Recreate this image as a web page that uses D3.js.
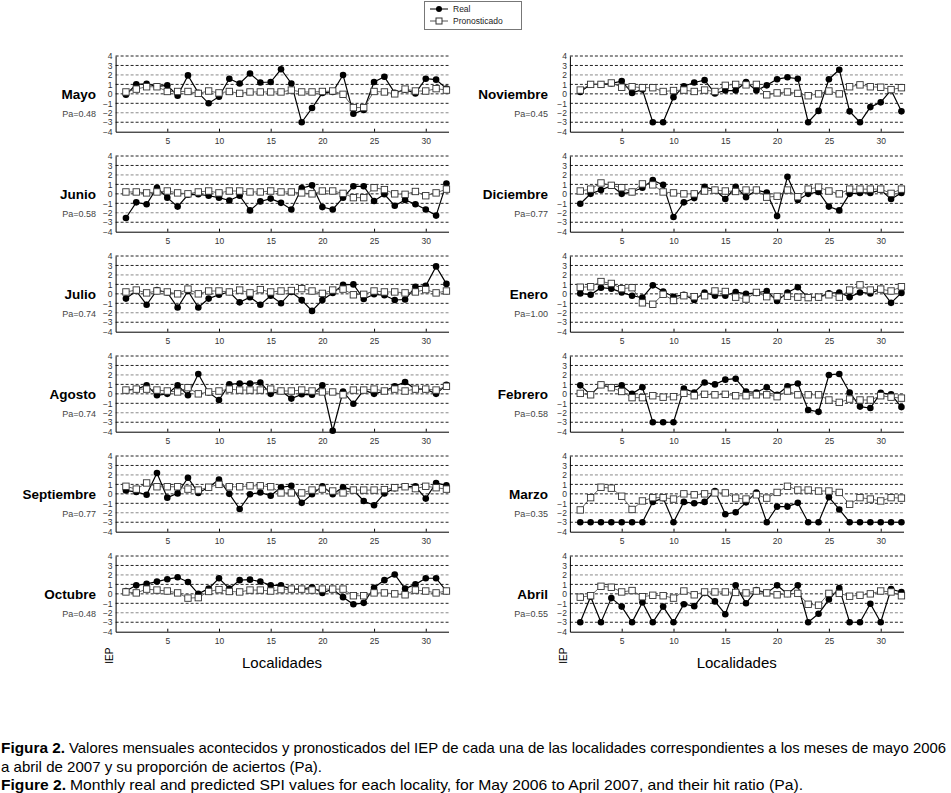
<!DOCTYPE html>
<html><head><meta charset="utf-8">
<script src="https://cdn.jsdelivr.net/npm/d3@7"></script>
<style>body{margin:0;background:#fff}svg{display:block}</style>
</head><body>
<svg id="c" width="951" height="793"></svg>
<script>
// ---- data ----
const localidades = d3.range(1, 33);
const xTicks = [5, 10, 15, 20, 25, 30];
const yTicks = [4, 3, 2, 1, 0, -1, -2, -3, -4];
const gridValues = [4, 3, 2, 1, 0, -1, -2, -3];

const monthsLeft = ["Mayo", "Junio", "Julio", "Agosto", "Septiembre", "Octubre"];
const monthsRight = ["Noviembre", "Diciembre", "Enero", "Febrero", "Marzo", "Abril"];
const paLeft = ["0.48", "0.58", "0.74", "0.74", "0.77", "0.48"];
const paRight = ["0.45", "0.77", "1.00", "0.58", "0.35", "0.55"];

const realMayo = [-0.1,1.0,1.05,0.8,0.9,-0.2,1.95,0.1,-1.0,-0.3,1.6,1.1,2.15,1.2,1.25,2.6,1.1,-3.0,-1.5,0.1,0.2,2.0,-2.1,-1.7,1.25,1.8,0.1,0.45,0.05,1.6,1.5,0.55];
const pronMayo = [0.2,0.5,0.75,0.75,0.25,0.25,0.25,0.05,0.3,0.1,0.25,0.05,0.2,0.2,0.2,0.2,0.4,0.2,0.2,0.25,0.3,-0.05,-1.45,-1.45,0.25,0.2,0.0,0.5,0.3,0.3,0.55,0.4];
const realJunio = [-2.55,-0.9,-1.1,0.65,-0.4,-1.35,-0.1,-0.05,-0.2,-0.4,-0.7,-0.2,-1.75,-0.8,-0.5,-0.95,-1.65,0.6,0.9,-1.4,-1.65,-0.4,0.8,0.8,-0.75,-0.05,-1.25,-0.65,-1.1,-1.65,-2.3,1.1];
const pronJunio = [0.2,0.2,0.1,0.2,0.3,0.1,0.0,0.2,0.3,0.1,0.3,0.3,0.2,0.2,0.3,0.2,0.2,0.1,0.0,0.3,0.3,0.05,-0.4,-0.4,0.65,0.45,0.0,-0.05,0.25,-0.2,0.1,0.5];
const realJulio = [-0.5,0.3,-1.15,0.4,0.15,-1.45,0.3,-1.45,-0.5,-0.1,0.2,-0.9,-0.35,-1.15,-0.2,-1.0,0.2,-0.65,-1.8,-0.65,0.1,0.95,1.0,-0.55,-0.05,-0.15,-0.65,-0.6,0.75,0.85,2.9,1.05];
const pronJulio = [0.2,0.4,0.1,0.3,0.2,0.0,0.5,0.0,0.3,0.3,0.2,0.4,0.1,0.45,0.2,0.3,0.35,0.55,0.3,0.05,0.4,0.5,-0.1,-0.05,0.3,0.2,0.2,0.1,0.2,0.45,0.1,0.3];
const realAgosto = [0.4,0.5,0.9,-0.15,0.0,0.9,-0.15,2.1,0.15,-0.65,1.0,1.1,1.1,1.2,0.0,0.3,-0.5,-0.05,-0.1,0.9,-3.9,0.25,-1.05,0.4,0.0,0.3,0.8,1.25,0.5,0.5,0.0,0.95];
const pronAgosto = [0.4,0.5,0.5,0.4,0.3,0.2,0.65,0.0,0.2,0.3,0.5,0.4,0.4,0.4,0.5,0.3,0.3,0.4,0.3,0.2,0.2,-0.1,0.4,0.4,0.5,0.3,0.5,0.3,0.5,0.5,0.4,0.8];
const realSeptiembre = [0.35,0.2,-0.1,2.2,-0.4,0.05,1.7,0.1,0.7,1.5,0.0,-1.6,-0.05,0.15,-0.2,0.7,0.85,-0.95,-0.05,0.8,-0.05,0.7,0.4,-0.75,-1.2,0.05,0.6,0.75,0.8,-0.5,1.15,0.9];
const pronSeptiembre = [0.8,0.5,1.15,0.75,0.75,0.75,0.5,0.4,0.7,1.0,0.75,0.75,0.85,0.85,0.75,0.1,0.1,0.1,0.4,0.5,0.3,0.1,0.4,0.4,0.4,0.45,0.65,0.75,0.55,0.8,0.65,0.5];
const realOctubre = [0.3,0.9,1.05,1.3,1.55,1.75,1.25,0.0,0.55,1.65,0.55,1.45,1.5,1.3,0.9,0.9,0.5,0.5,0.7,0.1,0.5,-0.35,-1.1,-0.95,0.65,1.45,2.05,0.55,1.0,1.65,1.65,0.3];
const pronOctubre = [0.2,0.1,0.5,0.4,0.3,0.1,-0.45,-0.4,0.25,0.45,0.25,0.2,0.4,0.4,0.3,0.45,0.5,0.5,0.4,0.5,0.5,0.5,-0.2,-0.2,0.1,0.1,0.0,-0.1,0.4,0.3,0.1,0.3];
const realNoviembre = [0.2,1.0,1.0,1.1,1.35,0.1,0.45,-3.0,-3.0,-0.35,0.8,1.2,1.45,0.05,0.35,0.35,1.25,0.35,0.9,1.55,1.75,1.6,-3.0,-1.8,1.55,2.55,-1.85,-3.0,-1.4,-0.9,0.4,-1.85];
const pronNoviembre = [0.4,1.0,1.0,1.15,0.7,0.75,0.65,0.65,0.25,0.35,0.4,0.25,0.4,0.25,0.9,1.0,0.95,1.0,-0.1,0.1,0.2,0.05,-0.2,0.0,0.3,0.0,0.75,0.95,0.75,0.7,0.45,0.65];
const realDiciembre = [-1.05,0.0,0.4,0.85,0.0,0.2,0.65,1.45,0.95,-2.45,-0.9,-0.45,0.75,0.4,-0.55,0.75,-0.35,0.4,0.15,-2.35,1.8,-0.65,0.0,0.2,-1.35,-1.75,0.0,0.1,0.1,0.4,-0.55,0.1];
const pronDiciembre = [0.3,0.5,1.15,0.9,0.65,0.2,1.05,0.95,0.2,0.1,0.0,0.0,0.3,0.4,0.3,0.25,0.4,0.4,-0.35,-0.25,0.4,-0.3,0.5,0.7,0.3,0.0,0.5,0.5,0.5,0.5,0.05,0.5];
const realEnero = [0.05,-0.1,0.65,0.55,0.15,-0.2,-0.4,0.9,0.25,-0.3,-0.1,-0.65,0.15,-0.2,-0.2,0.2,0.0,0.1,0.3,-0.75,0.15,0.7,-0.4,-0.35,0.05,0.15,-0.35,0.15,0.05,0.5,-0.95,0.1];
const pronEnero = [0.7,0.75,1.3,1.1,0.55,0.65,-0.95,-1.1,-0.05,-0.7,-0.2,-0.3,-0.2,0.3,0.25,-0.35,-0.55,0.15,-0.3,-0.3,-0.25,-0.35,-0.4,-0.35,-0.1,-0.35,0.4,0.95,0.4,0.5,0.3,0.75];
const realFebrero = [0.9,-0.1,0.95,0.65,0.9,0.0,0.7,-3.0,-3.0,-3.0,0.55,0.15,1.2,1.0,1.5,1.6,0.25,0.15,0.7,-0.1,0.8,1.1,-1.7,-1.9,2.0,2.1,0.15,-1.35,-1.5,0.1,-0.05,-1.4];
const pronFebrero = [0.05,-0.1,0.95,0.65,0.25,-0.4,-0.4,-0.2,-0.35,-0.3,0.05,-0.2,-0.05,-0.1,-0.05,-0.2,-0.2,-0.1,-0.1,-0.3,0.3,-0.1,-0.1,-0.1,-0.65,-0.9,-0.55,-0.65,-0.65,-0.2,-0.35,-0.45];
const realMarzo = [-3,-3,-3,-3,-3,-3,-3,-0.85,-0.45,-3,-0.85,-1.0,-0.85,0.3,-2.15,-1.95,-0.9,0.15,-3,-1.35,-1.35,-0.95,-3,-3,-0.35,-1.65,-3,-3,-3,-3,-3,-3];
const pronMarzo = [-1.7,-0.4,0.7,0.6,-0.25,-1.65,-0.75,-0.4,-0.4,-0.55,0.0,-0.1,0.0,0.1,0.1,-0.45,-0.55,-0.1,-0.45,0.15,0.8,0.4,0.4,0.3,0.3,0.15,-1.1,-0.4,-0.55,-0.75,-0.4,-0.45];
const realAbril = [-3,-0.3,-3,-0.45,-1.35,-3,-0.9,-3,-1.35,-3,-1.1,-1.3,0.1,-0.8,-2.15,0.9,-1.0,0.4,0.1,0.9,0.0,0.9,-3,-2.1,-0.6,0.6,-3,-3,-1.05,-3,0.5,0.2];
const pronAbril = [-0.35,-0.2,0.8,0.7,0.2,0.35,-0.3,-0.15,-0.2,-0.45,0.3,-0.1,0.2,0.2,0.2,0.15,0.1,0.3,0.1,-0.1,0.0,0.05,-1.1,-1.2,0.05,0.05,-0.25,-0.15,0.0,0.3,0.2,-0.2];

const realLeft = [realMayo, realJunio, realJulio, realAgosto, realSeptiembre, realOctubre];
const pronLeft = [pronMayo, pronJunio, pronJulio, pronAgosto, pronSeptiembre, pronOctubre];
const realRight = [realNoviembre, realDiciembre, realEnero, realFebrero, realMarzo, realAbril];
const pronRight = [pronNoviembre, pronDiciembre, pronEnero, pronFebrero, pronMarzo, pronAbril];

// ---- drawing ----
const svg = d3.select("#c");
const FONT = "'Liberation Sans', Arial, sans-serif";

const columns = [
  {months: monthsLeft, pa: paLeft, real: realLeft, pron: pronLeft, x0: 115.6, x1: 448.5, labelX: 96},
  {months: monthsRight, pa: paRight, real: realRight, pron: pronRight, x0: 569.9, x1: 903.5, labelX: 548}
];

columns.forEach(col => {
  const x = d3.scaleLinear().domain([0, 32.2]).range([col.x0, col.x1]);
  col.months.forEach((m, i) => {
    const top = 56 + 100 * i, bot = 131.7 + 100 * i;
    const y = d3.scaleLinear().domain([-4, 4]).range([bot, top]);
    const g = svg.append("g");

    // grid
    g.selectAll("line.grid").data(gridValues).join("line")
      .attr("x1", x(0)).attr("x2", x(32.2))
      .attr("y1", d => y(d)).attr("y2", d => y(d))
      .attr("stroke", d => (d === 2 || d === -2) ? "#8a8a8a" : "#222")
      .attr("stroke-width", 1).attr("stroke-dasharray", "3,2");

    // x axis
    const xa = d3.axisBottom(x).tickValues(xTicks).tickSize(-3).tickPadding(6).tickSizeOuter(0);
    const gx = g.append("g").attr("transform", `translate(0,${bot})`).call(xa);
    gx.select(".domain").attr("stroke", "#000");
    gx.selectAll(".tick line").attr("stroke", "#000");
    gx.selectAll("text").attr("font-family", FONT).attr("font-size", 8.5).attr("fill", "#333");

    // y axis
    const ya = d3.axisLeft(y).tickValues(yTicks).tickSize(0).tickPadding(3).tickSizeOuter(0);
    const gy = g.append("g").attr("transform", `translate(${x(0)},0)`).call(ya);
    gy.select(".domain").attr("stroke", "#000");
    gy.selectAll("text").attr("font-family", FONT).attr("font-size", 8.5).attr("fill", "#333");

    // lines
    const real = col.real[i], pron = col.pron[i];
    const line = d3.line().x((d, k) => x(localidades[k])).y(d => y(d));
    g.append("path").attr("d", line(real)).attr("fill", "none").attr("stroke", "#000").attr("stroke-width", 1.2);
    g.append("path").attr("d", line(pron)).attr("fill", "none").attr("stroke", "#555").attr("stroke-width", 0.9);

    g.selectAll("circle.r").data(real).join("circle")
      .attr("cx", (d, k) => x(localidades[k])).attr("cy", d => y(d)).attr("r", 3.3).attr("fill", "#000");
    g.selectAll("rect.p").data(pron).join("rect")
      .attr("x", (d, k) => x(localidades[k]) - 3.2).attr("y", d => y(d) - 3.2)
      .attr("width", 6.4).attr("height", 6.4)
      .attr("fill", "#fff").attr("stroke", "#333").attr("stroke-width", 0.9);

    // labels
    g.append("text").attr("x", col.labelX).attr("y", top + 43).attr("text-anchor", "end")
      .attr("font-family", FONT).attr("font-weight", "bold").attr("font-size", 13.5).text(m);
    g.append("text").attr("x", col.labelX).attr("y", top + 61).attr("text-anchor", "end")
      .attr("font-family", FONT).attr("font-size", 9).attr("fill", "#444").text("Pa=" + col.pa[i]);
  });

  // axis titles under bottom panel
  const yb = 131.7 + 500;
  svg.append("text").attr("transform", `translate(${col.x0 - 3},${yb + 24}) rotate(-90)`)
    .attr("text-anchor", "middle").attr("font-family", FONT).attr("font-size", 10).text("IEP");
  svg.append("text").attr("x", (col.x0 + col.x1) / 2 + 0).attr("y", yb + 36).attr("text-anchor", "middle")
    .attr("font-family", FONT).attr("font-size", 15).text("Localidades");
});

// legend
const lg = svg.append("g");
lg.append("rect").attr("x", 424.5).attr("y", 1.5).attr("width", 97).attr("height", 28)
  .attr("fill", "#fff").attr("stroke", "#777");
const legendItems = [{name: "Real", type: "real"}, {name: "Pronosticado", type: "pron"}];
legendItems.forEach((it, j) => {
  const ly = 9 + j * 12;
  lg.append("line").attr("x1", 430).attr("x2", 448).attr("y1", ly).attr("y2", ly)
    .attr("stroke", it.type === "real" ? "#000" : "#555").attr("stroke-width", 1);
  if (it.type === "real") lg.append("circle").attr("cx", 439).attr("cy", ly).attr("r", 3).attr("fill", "#000");
  else lg.append("rect").attr("x", 436).attr("y", ly - 3).attr("width", 6).attr("height", 6).attr("fill", "#fff").attr("stroke", "#333");
  lg.append("text").attr("x", 453).attr("y", ly + 3).attr("font-family", FONT).attr("font-size", 8.5).attr("fill", "#222").text(it.name);
});

// caption (bold label + text, each stretched to the reference widths)
const captionBold = ["Figura 2.", "", "Figure 2."];
const captionText = [
  "Valores mensuales acontecidos y pronosticados del IEP de cada una de las localidades correspondientes a los meses de mayo 2006",
  "a abril de 2007 y su proporción de aciertos (Pa).",
  "Monthly real and predicted SPI values for each locality, for May 2006 to April 2007, and their hit ratio (Pa)."
];
const capLayout = [
  {y: 753, bx: 1, bw: 64, tx: 69, tw: 877},
  {y: 772, bx: 1, bw: 0, tx: 1, tw: 321},
  {y: 790, bx: 1, bw: 65, tx: 70, tw: 733}
];
capLayout.forEach((c, i) => {
  if (captionBold[i]) {
    svg.append("text").attr("x", c.bx).attr("y", c.y).attr("font-family", FONT).attr("font-size", 14.5)
      .attr("font-weight", "bold").attr("textLength", c.bw).attr("lengthAdjust", "spacingAndGlyphs").text(captionBold[i]);
  }
  svg.append("text").attr("x", c.tx).attr("y", c.y).attr("font-family", FONT).attr("font-size", 14.5)
    .attr("textLength", c.tw).attr("lengthAdjust", "spacingAndGlyphs").text(captionText[i]);
});
</script>
</body></html>
